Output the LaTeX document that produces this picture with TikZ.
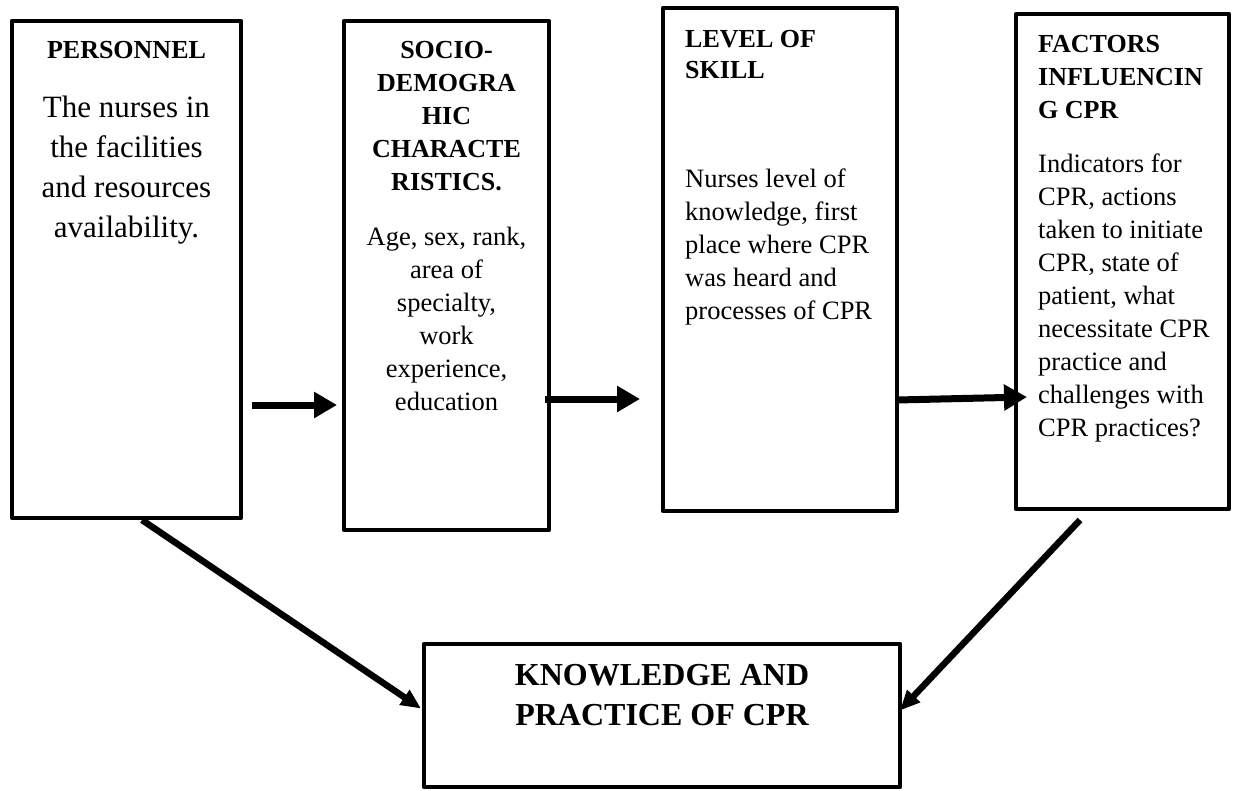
\documentclass[tikz,border=0pt]{standalone}
\usepackage{fontspec}
\setmainfont{Liberation Serif}
\usetikzlibrary{arrows.meta,calc}
\begin{document}
\begin{tikzpicture}[x=1pt,y=-1pt,
  box/.style={draw, line width=4.5pt, line join=round, rectangle, outer sep=0pt, inner sep=0pt, anchor=north west},
  hd/.style={font=\fontsize{26}{33}\selectfont\bfseries, inner sep=0pt},
  bd/.style={font=\fontsize{26.5}{33}\selectfont, inner sep=0pt},
  harrow/.style={line width=7pt, -{Triangle[length=23pt,width=25pt]}},
  darrow/.style={line width=6.5pt, -{Triangle[length=20pt,width=17pt]}}]
\useasboundingbox (0,0) rectangle (1234,790);
% boxes
\node[box, minimum width=229pt, minimum height=497pt] (b1) at (12,21) {};
\node[box, minimum width=205pt, minimum height=509pt] (b2) at (344,21) {};
\node[box, minimum width=234pt, minimum height=503pt] (b3) at (663,8) {};
\node[box, minimum width=213pt, minimum height=495pt] (b4) at (1016,14) {};
\node[box, minimum width=476pt, minimum height=143pt] (b5) at (424,644) {};
% texts
\node[hd, anchor=north] (t1) at (126.5,40.8) {PERSONNEL};
\node[font=\fontsize{31}{40}\selectfont, inner sep=0pt, align=center, anchor=north] (d1) at (126.5,96) {The nurses in\\the facilities\\and resources\\availability.};
\node[hd, align=center, anchor=north] (t2) at (446.5,40.8) {SOCIO-\\DEMOGRA\\HIC\\CHARACTE\\RISTICS.};
\node[bd, align=center, anchor=north] (d2) at (446.5,227) {Age, sex, rank,\\area of\\specialty,\\work\\experience,\\education};
\node[font=\fontsize{26}{31}\selectfont\bfseries, inner sep=0pt, align=left, anchor=north west] (t3) at (685,30) {LEVEL OF\\SKILL};
\node[bd, align=left, anchor=north west] (d3) at (685,169) {Nurses level of\\knowledge, first\\place where CPR\\was heard and\\processes of CPR};
\node[hd, align=left, anchor=north west] (t4) at (1038,35) {FACTORS\\INFLUENCIN\\G CPR};
\node[bd, align=left, anchor=north west] (d4) at (1038,154) {Indicators for\\CPR, actions\\taken to initiate\\CPR, state of\\patient, what\\necessitate CPR\\practice and\\challenges with\\CPR practices?};
\node[font=\fontsize{32}{40}\selectfont\bfseries, inner sep=0pt, align=center, anchor=north] (t5) at (662,664) {KNOWLEDGE AND\\PRACTICE OF CPR};
% connectors
\draw[harrow] ($(b1.south east)+(11,-113)$) -- ($(b2.south west)+(-7,-125)$);
\draw[harrow] ($(b2.south east)+(-4,-131)$) -- ($(b3.south west)+(-23,-112)$);
\draw[harrow] ($(b3.south east)+(0,-111)$) -- ($(b4.south west)+(11,-112)$);
\draw[darrow] ($(b1.south)+(15.5,2)$) -- ($(b5.west)+(-3,-7)$);
\draw[darrow] ($(b4.south)+(-42.5,11)$) -- ($(b5.east)+(0,-5)$);
\end{tikzpicture}
\end{document}
